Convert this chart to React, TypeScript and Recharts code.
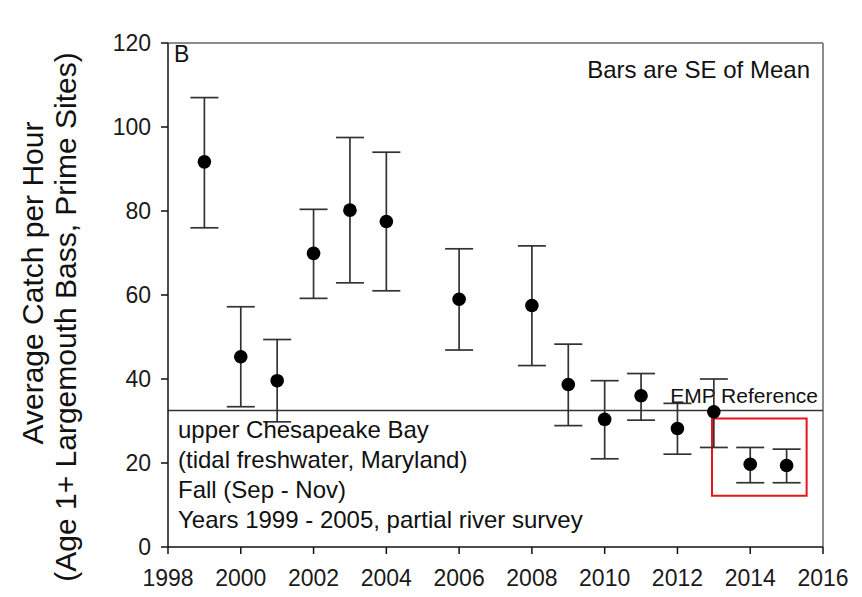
import {
  ComposedChart,
  ErrorBar,
  ReferenceArea,
  ReferenceLine,
  Scatter,
  XAxis,
  YAxis,
} from 'recharts';

// mean catch per hour and the SE bar ends
const years = [1999, 2000, 2001, 2002, 2003, 2004, 2006, 2008, 2009, 2010, 2011, 2012, 2013, 2014, 2015];
const means = [91.7, 45.3, 39.6, 69.9, 80.2, 77.5, 59.0, 57.5, 38.7, 30.4, 36.0, 28.2, 32.2, 19.7, 19.4];
const seLow = [76.0, 33.4, 29.8, 59.2, 62.9, 61.0, 46.9, 43.2, 28.9, 21.0, 30.2, 22.1, 23.7, 15.3, 15.3];
const seHigh = [107.0, 57.2, 49.4, 80.4, 97.5, 94.0, 71.0, 71.7, 48.3, 39.6, 41.3, 34.2, 40.0, 23.7, 23.3];

const xTicks = [1998, 2000, 2002, 2004, 2006, 2008, 2010, 2012, 2014, 2016];
const yTicks = [0, 20, 40, 60, 80, 100, 120];

const empReference = 32.5;
const highlight = { x1: 2012.95, x2: 2015.55, y1: 12.2, y2: 30.6 };

const notes = [
  'upper Chesapeake Bay',
  '(tidal freshwater, Maryland)',
  'Fall (Sep - Nov)',
  'Years 1999 - 2005, partial river survey',
];

const data = years.map((year, i) => ({
  year,
  mean: means[i],
  err: [means[i] - seLow[i], seHigh[i] - means[i]],
}));

const font = '"Liberation Sans", Arial, sans-serif';
const tickStyle = { fill: '#1a1a1a', fontSize: 23, fontFamily: font };

function Dot(props: any) {
  return <circle cx={props.cx} cy={props.cy} r={6.8} fill="#000" />;
}

export default function App() {
  return (
    <div style={{ position: 'absolute', left: 0, top: 0, width: 862, height: 597, background: '#fff' }}>
      <ComposedChart
        width={862}
        height={597}
        data={data}
        margin={{ top: 43, right: 39, bottom: 0, left: 108 }}
      >
        <XAxis
          type="number"
          dataKey="year"
          domain={[1998, 2016]}
          ticks={xTicks}
          interval={0}
          height={50}
          tick={tickStyle}
          tickSize={7}
          tickMargin={16}
          stroke="#111"
          strokeWidth={1.5}
        />
        <YAxis
          type="number"
          domain={[0, 120]}
          ticks={yTicks}
          interval={0}
          width={60}
          tick={tickStyle}
          tickSize={7}
          tickMargin={10}
          stroke="#111"
          strokeWidth={1.5}
        />
        <ReferenceLine y={120} stroke="#666" strokeWidth={1.5} />
        <ReferenceLine x={2016} stroke="#666" strokeWidth={1.5} />
        <ReferenceLine
          y={empReference}
          stroke="#333"
          strokeWidth={1.5}
          label={(p: any) => (
            <text
              x={p.viewBox.x + p.viewBox.width - 5}
              y={p.viewBox.y - 8}
              textAnchor="end"
              fontSize={21}
              fontFamily={font}
              fill="#111"
            >
              EMP Reference
            </text>
          )}
        />
        <ReferenceArea
          x1={highlight.x1}
          x2={highlight.x2}
          y1={highlight.y1}
          y2={highlight.y2}
          fill="none"
          fillOpacity={0}
          stroke="#e8141b"
          strokeWidth={2}
        />
        <Scatter dataKey="mean" shape={Dot} isAnimationActive={false}>
          <ErrorBar dataKey="err" direction="y" width={14} stroke="#333" strokeWidth={1.7} isAnimationActive={false} />
        </Scatter>
      </ComposedChart>
      <svg
        width={862}
        height={597}
        style={{ position: 'absolute', left: 0, top: 0, pointerEvents: 'none' }}
        fontFamily={font}
        fill="#111"
      >
        <text x={174} y={62} fontSize={23}>B</text>
        <text x={810} y={78} fontSize={24} textAnchor="end">Bars are SE of Mean</text>
        {notes.map((line, i) => (
          <text key={line} x={178} y={438 + i * 30} fontSize={24}>
            {line}
          </text>
        ))}
        <text x={43} y={283} fontSize={30} textAnchor="middle" transform="rotate(-90 43 283)">
          Average Catch per Hour
        </text>
        <text x={76} y={317} fontSize={30} textAnchor="middle" transform="rotate(-90 76 317)">
          (Age 1+ Largemouth Bass, Prime Sites)
        </text>
      </svg>
    </div>
  );
}
